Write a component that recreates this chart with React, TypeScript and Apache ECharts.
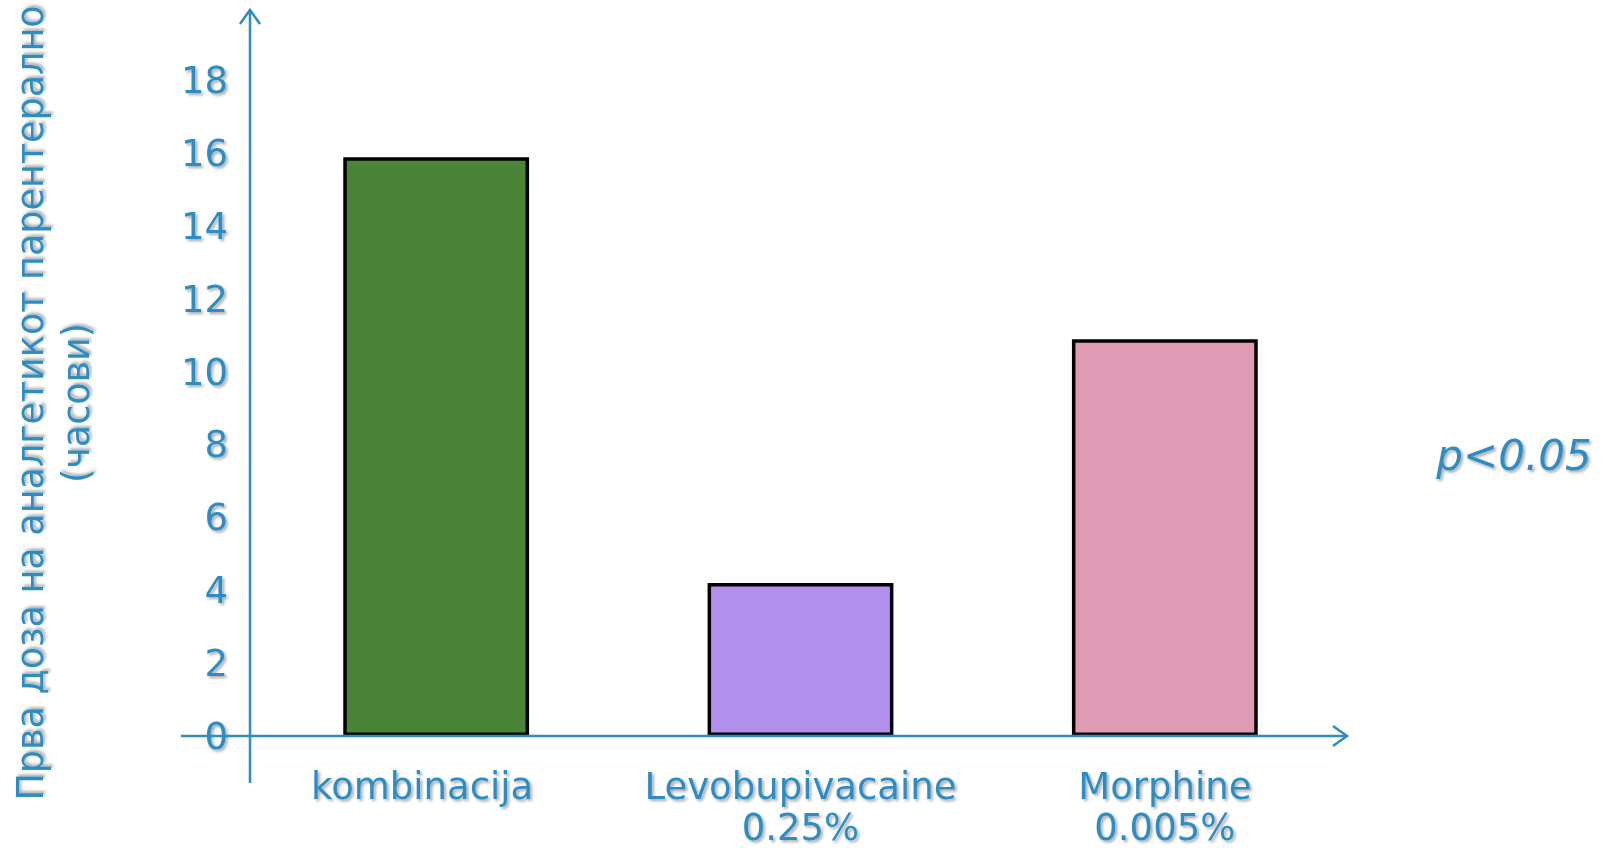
import React, { useEffect, useRef } from "react";
import * as echarts from "echarts";

const categories = ["kombinacija", "Levobupivacaine\n0.25%", "Morphine\n0.005%"];
const values = [15.9, 4.2, 10.9];
const barColors = ["#4A8436", "#B28FEC", "#DF9BB4"];
const yTicks = [0, 2, 4, 6, 8, 10, 12, 14, 16, 18];
const yAxisTitle = "Прва доза на аналгетикот парентерално\n(часови)";
const note = "p<0.05";

const BLUE = "#2F8DC0";
const SHADOW = {
  textShadowColor: "rgba(0,0,0,0.35)",
  textShadowBlur: 3,
  textShadowOffsetX: 2,
  textShadowOffsetY: 2,
};

export default function App() {
  const ref = useRef<HTMLDivElement>(null);
  useEffect(() => {
    if (!ref.current) return;
    const chart = echarts.init(ref.current, null, { renderer: "svg" });
    const gridLeft = 250;
    const gridRight = 1347;
    const gridTop = 8;
    const gridBottom = 736;
    const lineStyle = { stroke: BLUE, lineWidth: 2.5, fill: "none" };
    chart.setOption({
      animation: false,
      backgroundColor: "#fff",
      grid: {
        left: gridLeft + 4,
        right: 1612 - gridRight,
        top: gridTop,
        bottom: 848 - gridBottom,
        containLabel: false,
      },
      xAxis: {
        type: "category",
        data: categories.map((c, i) =>
          i === 0 ? { value: c, textStyle: { padding: [0, 28, 0, 0] } } : c
        ),
        axisLine: { show: false },
        axisTick: { show: false },
        axisLabel: {
          interval: 0,
          margin: 30,
          color: BLUE,
          fontFamily: "DejaVu Sans",
          fontSize: 37,
          lineHeight: 41,
          ...SHADOW,
        },
      },
      yAxis: {
        type: "value",
        min: 0,
        max: 20,
        interval: 2,
        splitLine: { show: false },
        axisLine: { show: false },
        axisTick: { show: false },
        axisLabel: {
          margin: 26,
          color: BLUE,
          fontFamily: "DejaVu Sans",
          fontSize: 37,
          formatter: (v: number) => (yTicks.includes(v) ? String(v) : ""),
          ...SHADOW,
        },
      },
      series: [
        {
          type: "bar",
          barWidth: "51%",
          data: values.map((v, i) => ({
            value: v,
            itemStyle: { color: barColors[i] },
          })),
          itemStyle: { borderColor: "#000", borderWidth: 3.5 },
        },
      ],
      graphic: [
        { type: "line", shape: { x1: gridLeft, y1: gridTop + 2, x2: gridLeft, y2: 783 }, style: lineStyle, z: 10 },
        { type: "polyline", shape: { points: [[gridLeft - 10, gridTop + 16], [gridLeft, gridTop + 2], [gridLeft + 10, gridTop + 16]] }, style: lineStyle, z: 10 },
        { type: "line", shape: { x1: 181, y1: gridBottom, x2: gridRight, y2: gridBottom }, style: lineStyle, z: 10 },
        { type: "polyline", shape: { points: [[gridRight - 14, gridBottom - 10], [gridRight, gridBottom], [gridRight - 14, gridBottom + 10]] }, style: lineStyle, z: 10 },
        {
          type: "text",
          x: 53,
          y: 403,
          rotation: Math.PI / 2,
          style: {
            text: yAxisTitle,
            fill: BLUE,
            font: "36.5px 'DejaVu Sans'",
            align: "center",
            verticalAlign: "middle",
            lineHeight: 46,
            ...SHADOW,
          },
        },
        {
          type: "text",
          x: 1514,
          y: 455,
          style: {
            text: note,
            fill: BLUE,
            font: "italic 42px 'DejaVu Sans'",
            align: "center",
            verticalAlign: "middle",
            ...SHADOW,
          },
        },
      ],
    });
    return () => chart.dispose();
  }, []);
  return (
    <div
      ref={ref}
      style={{ position: "fixed", left: 0, top: 0, width: 1612, height: 848 }}
    />
  );
}
